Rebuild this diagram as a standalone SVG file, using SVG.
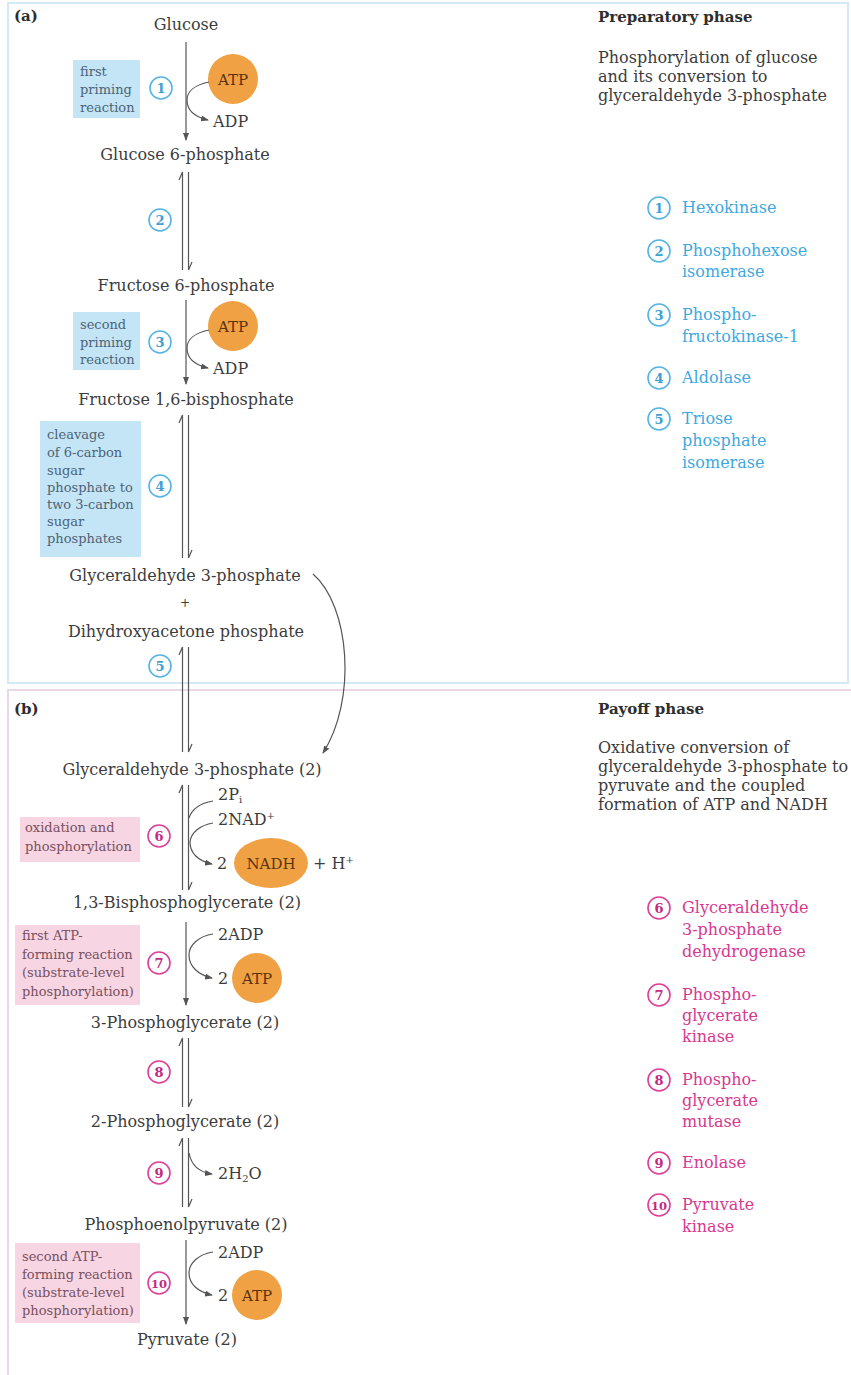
<svg xmlns="http://www.w3.org/2000/svg" width="851" height="1375" viewBox="0 0 851 1375">
<defs>
<marker id="ah" markerWidth="8" markerHeight="6" refX="7" refY="3" orient="auto" markerUnits="userSpaceOnUse">
<path d="M0,0 L8,3 L0,6 z" fill="#555"/>
</marker>
<style>
.t{font-family:"DejaVu Serif","Liberation Serif",serif;font-size:16px;fill:#3c3c3c}
.c{text-anchor:middle}
.h{font-family:"DejaVu Serif","Liberation Serif",serif;font-size:15px;font-weight:bold;fill:#2e2e2e}
.lb{font-family:"DejaVu Serif","Liberation Serif",serif;font-size:13px;fill:#4d6376}
.lp{font-family:"DejaVu Serif","Liberation Serif",serif;font-size:13px;fill:#77505f}
.bb{fill:#c4e5f6}
.pb{fill:#f8d5e2}
.ln{fill:none;stroke:#555;stroke-width:1.2}
.cb{fill:#fff;stroke:#55b4e4;stroke-width:1.6}
.cp{fill:#fff;stroke:#df3f97;stroke-width:1.6}
.nb{font-family:"DejaVu Serif","Liberation Serif",serif;font-size:13px;font-weight:bold;fill:#3e9fd3;text-anchor:middle}
.np{font-family:"DejaVu Serif","Liberation Serif",serif;font-size:13px;font-weight:bold;fill:#c42a80;text-anchor:middle}
.eb{font-family:"DejaVu Serif","Liberation Serif",serif;font-size:16px;fill:#3ea8df}
.ep{font-family:"DejaVu Serif","Liberation Serif",serif;font-size:16px;fill:#d63890}
.or{fill:#f0a144}
.ot{font-family:"DejaVu Serif","Liberation Serif",serif;font-size:15px;fill:#5a3410;text-anchor:middle}
</style>
</defs>
<rect width="851" height="1375" fill="#fff"/>
<g id="panels">
<rect x="8" y="3" width="840" height="680" fill="none" stroke="#d3eaf6" stroke-width="2"/>
<path d="M8,1380 V690 H851" fill="none" stroke="#ead8e8" stroke-width="2"/>
<text class="h" x="14" y="21">(a)</text>
<text class="h" x="14" y="714">(b)</text>
</g>
<g id="side-text">
<text class="h" x="598" y="22">Preparatory phase</text>
<text class="t" x="598" y="63">Phosphorylation of glucose</text>
<text class="t" x="598" y="82">and its conversion to</text>
<text class="t" x="598" y="101">glyceraldehyde 3-phosphate</text>
<text class="h" x="598" y="714">Payoff phase</text>
<text class="t" x="598" y="753">Oxidative conversion of</text>
<text class="t" x="598" y="772">glyceraldehyde 3-phosphate to</text>
<text class="t" x="598" y="791">pyruvate and the coupled</text>
<text class="t" x="598" y="810">formation of ATP and NADH</text>
</g>
<g id="enzymes-a">
<circle class="cb" cx="659" cy="208" r="11"/><text class="nb" x="659" y="213">1</text>
<text class="eb" x="682" y="213">Hexokinase</text>
<circle class="cb" cx="659" cy="251" r="11"/><text class="nb" x="659" y="256">2</text>
<text class="eb" x="682" y="256">Phosphohexose</text><text class="eb" x="682" y="277">isomerase</text>
<circle class="cb" cx="659" cy="315" r="11"/><text class="nb" x="659" y="320">3</text>
<text class="eb" x="682" y="320">Phospho-</text><text class="eb" x="682" y="342">fructokinase-1</text>
<circle class="cb" cx="659" cy="378" r="11"/><text class="nb" x="659" y="383">4</text>
<text class="eb" x="682" y="383">Aldolase</text>
<circle class="cb" cx="659" cy="419" r="11"/><text class="nb" x="659" y="424">5</text>
<text class="eb" x="682" y="424">Triose</text><text class="eb" x="682" y="446">phosphate</text><text class="eb" x="682" y="468">isomerase</text>
</g>
<g id="enzymes-b">
<circle class="cp" cx="659" cy="908" r="11"/><text class="np" x="659" y="913">6</text>
<text class="ep" x="682" y="913">Glyceraldehyde</text><text class="ep" x="682" y="935">3-phosphate</text><text class="ep" x="682" y="957">dehydrogenase</text>
<circle class="cp" cx="659" cy="995" r="11"/><text class="np" x="659" y="1000">7</text>
<text class="ep" x="682" y="1000">Phospho-</text><text class="ep" x="682" y="1021">glycerate</text><text class="ep" x="682" y="1042">kinase</text>
<circle class="cp" cx="659" cy="1080" r="11"/><text class="np" x="659" y="1085">8</text>
<text class="ep" x="682" y="1085">Phospho-</text><text class="ep" x="682" y="1106">glycerate</text><text class="ep" x="682" y="1127">mutase</text>
<circle class="cp" cx="659" cy="1163" r="11"/><text class="np" x="659" y="1168">9</text>
<text class="ep" x="682" y="1168">Enolase</text>
<circle class="cp" cx="659" cy="1205" r="11"/><text class="np" x="659" y="1209.5" style="font-size:11.5px">10</text>
<text class="ep" x="682" y="1210">Pyruvate</text><text class="ep" x="682" y="1232">kinase</text>
</g>
<g id="labels">
<rect class="bb" x="73" y="60" width="67" height="58"/>
<text class="lb" x="80" y="76">first</text><text class="lb" x="80" y="94">priming</text><text class="lb" x="80" y="112">reaction</text>
<rect class="bb" x="73" y="312" width="67" height="58"/>
<text class="lb" x="80" y="329">second</text><text class="lb" x="80" y="347">priming</text><text class="lb" x="80" y="364">reaction</text>
<rect class="bb" x="40" y="421" width="101" height="136"/>
<text class="lb" x="47" y="439">cleavage</text><text class="lb" x="47" y="457">of 6-carbon</text><text class="lb" x="47" y="475">sugar</text><text class="lb" x="47" y="492">phosphate to</text><text class="lb" x="47" y="509">two 3-carbon</text><text class="lb" x="47" y="526">sugar</text><text class="lb" x="47" y="543">phosphates</text>
<rect class="pb" x="20" y="817" width="120" height="45"/>
<text class="lp" x="25" y="832">oxidation and</text><text class="lp" x="25" y="851">phosphorylation</text>
<rect class="pb" x="15" y="925" width="125" height="80"/>
<text class="lp" x="22" y="940">first ATP-</text><text class="lp" x="22" y="959">forming reaction</text><text class="lp" x="22" y="977">(substrate-level</text><text class="lp" x="22" y="996">phosphorylation)</text>
<rect class="pb" x="15" y="1243" width="125" height="80"/>
<text class="lp" x="22" y="1261">second ATP-</text><text class="lp" x="22" y="1279">forming reaction</text><text class="lp" x="22" y="1297">(substrate-level</text><text class="lp" x="22" y="1315">phosphorylation)</text>
</g>
<g id="step-numbers">
<circle class="cb" cx="161" cy="88" r="11"/><text class="nb" x="161" y="93">1</text>
<circle class="cb" cx="160" cy="220" r="11"/><text class="nb" x="160" y="225">2</text>
<circle class="cb" cx="160" cy="342" r="11"/><text class="nb" x="160" y="347">3</text>
<circle class="cb" cx="160" cy="486" r="11"/><text class="nb" x="160" y="491">4</text>
<circle class="cb" cx="160" cy="666" r="11"/><text class="nb" x="160" y="671">5</text>
<circle class="cp" cx="159" cy="836" r="11"/><text class="np" x="159" y="841">6</text>
<circle class="cp" cx="159" cy="963" r="11"/><text class="np" x="159" y="968">7</text>
<circle class="cp" cx="159" cy="1072" r="11"/><text class="np" x="159" y="1077">8</text>
<circle class="cp" cx="159" cy="1173" r="11"/><text class="np" x="159" y="1178">9</text>
<circle class="cp" cx="159" cy="1283" r="11"/><text class="np" x="159" y="1287.5" style="font-size:11.5px">10</text>
</g>
<g id="metabolites">
<text class="t c" x="186" y="30">Glucose</text>
<text class="t c" x="185" y="160">Glucose 6-phosphate</text>
<text class="t c" x="186" y="291">Fructose 6-phosphate</text>
<text class="t c" x="186" y="405">Fructose 1,6-bisphosphate</text>
<text class="t c" x="185" y="581">Glyceraldehyde 3-phosphate</text>
<text class="t c" x="185" y="607" style="font-size:12px">+</text>
<text class="t c" x="186" y="637">Dihydroxyacetone phosphate</text>
<text class="t c" x="192" y="775">Glyceraldehyde 3-phosphate (2)</text>
<text class="t c" x="187" y="908">1,3-Bisphosphoglycerate (2)</text>
<text class="t c" x="185" y="1028">3-Phosphoglycerate (2)</text>
<text class="t c" x="185" y="1127">2-Phosphoglycerate (2)</text>
<text class="t c" x="186" y="1230">Phosphoenolpyruvate (2)</text>
<text class="t c" x="187" y="1345">Pyruvate (2)</text>
</g>
<g id="cofactors">
<circle class="or" cx="233" cy="79" r="25"/><text class="ot" x="233" y="85">ATP</text>
<text class="t" x="213" y="127">ADP</text>
<circle class="or" cx="233" cy="326" r="25"/><text class="ot" x="233" y="332">ATP</text>
<text class="t" x="213" y="374">ADP</text>
<text class="t" x="218" y="800">2P<tspan dy="3" style="font-size:10px">i</tspan></text>
<text class="t" x="218" y="825">2NAD<tspan dy="-6" style="font-size:10px">+</tspan></text>
<text class="t" x="217" y="869">2</text>
<ellipse class="or" cx="271" cy="863" rx="37" ry="25"/><text class="ot" x="271" y="869">NADH</text>
<text class="t" x="313" y="869">+ H<tspan dy="-6" style="font-size:10px">+</tspan></text>
<text class="t" x="218" y="940">2ADP</text>
<text class="t" x="218" y="984">2</text>
<circle class="or" cx="257" cy="978" r="25"/><text class="ot" x="257" y="984">ATP</text>
<text class="t" x="218" y="1179">2H<tspan dy="3" style="font-size:10px">2</tspan><tspan dy="-3">O</tspan></text>
<text class="t" x="218" y="1258">2ADP</text>
<text class="t" x="218" y="1301">2</text>
<circle class="or" cx="257" cy="1295" r="25"/><text class="ot" x="257" y="1301">ATP</text>
</g>
<g id="connectors">
<line class="ln" x1="186" y1="42" x2="186" y2="140" marker-end="url(#ah)"/>
<path class="ln" d="M209,82 C194,85 187,92 187,100 C187,110 195,117 208,120" marker-end="url(#ah)"/>
<path class="ln" d="M182.5,270 V172 l-3.5,8"/><path class="ln" d="M188.5,172 V270 l3.5,-8"/>
<line class="ln" x1="186" y1="300" x2="186" y2="384" marker-end="url(#ah)"/>
<path class="ln" d="M209,330 C194,333 187,340 187,348 C187,358 195,365 208,368" marker-end="url(#ah)"/>
<path class="ln" d="M182.5,558 V415 l-3.5,8"/><path class="ln" d="M188.5,415 V558 l3.5,-8"/>
<path class="ln" d="M182.5,752 V647 l-3.5,8"/><path class="ln" d="M188.5,647 V752 l3.5,-8"/>
<path class="ln" d="M313,574 C350,606 357,700 323,753" marker-end="url(#ah)"/>
<path class="ln" d="M182.5,890 V785 l-3.5,8"/><path class="ln" d="M188.5,785 V890 l3.5,-8"/>
<path class="ln" d="M213,801 C201,803 192,809 189,818"/>
<path class="ln" d="M213,823 C201,825 191,832 190,842 C190,853 198,861 212,864" marker-end="url(#ah)"/>
<line class="ln" x1="186" y1="922" x2="186" y2="1005" marker-end="url(#ah)"/>
<path class="ln" d="M213,934 C199,936 189,945 189,955 C189,966 198,975 212,978" marker-end="url(#ah)"/>
<path class="ln" d="M182.5,1107 V1038 l-3.5,8"/><path class="ln" d="M188.5,1038 V1107 l3.5,-8"/>
<path class="ln" d="M182.5,1207 V1138 l-3.5,8"/><path class="ln" d="M188.5,1138 V1207 l3.5,-8"/>
<path class="ln" d="M189,1153 C191,1164 198,1172 212,1174" marker-end="url(#ah)"/>
<line class="ln" x1="186" y1="1240" x2="186" y2="1324" marker-end="url(#ah)"/>
<path class="ln" d="M213,1252 C199,1254 189,1263 189,1273 C189,1284 198,1292 212,1295" marker-end="url(#ah)"/>
</g>
</svg>
